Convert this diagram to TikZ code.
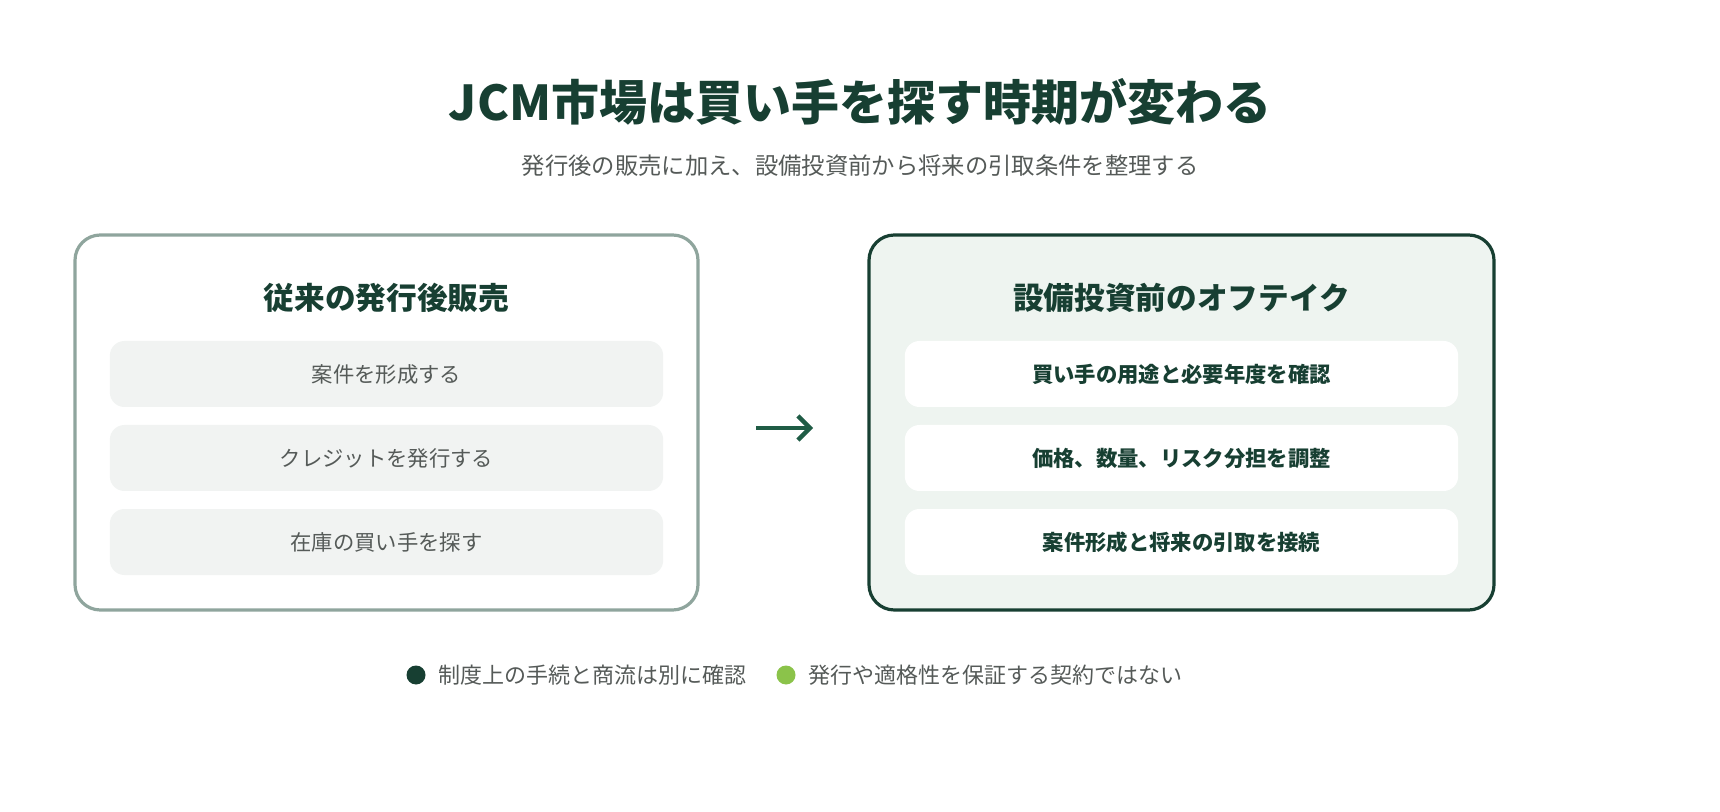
\documentclass[tikz,border=0pt]{standalone}
\usepackage{fontspec}
\setmainfont{Noto Sans CJK JP}
\usetikzlibrary{arrows.meta}
\definecolor{deepgreen}{HTML}{173F32}
\definecolor{greytext}{HTML}{555A58}
\definecolor{paleline}{HTML}{8FA59D}
\definecolor{rowgrey}{HTML}{F1F3F2}
\definecolor{palegreen}{HTML}{EEF4F0}
\definecolor{leafgreen}{HTML}{8BC34A}
\definecolor{arrowgreen}{HTML}{1F5C45}
\tikzset{every picture/.style={line width=0.75pt}}
\tikzset{
  panel/.style={rounded corners=19pt, line width=2.4pt},
  row/.style={rounded corners=11pt, draw=none, minimum width=415pt, minimum height=49.5pt, font=\fontsize{16pt}{18pt}\selectfont},
  head/.style={font=\fontsize{23pt}{26pt}\selectfont\bfseries, text=deepgreen},
  legend/.style={anchor=west, font=\fontsize{16.5pt}{19pt}\selectfont, text=greytext},
}
\begin{document}
\begin{tikzpicture}[x=0.75pt,y=0.75pt,yscale=-1,xscale=1]
\useasboundingbox (0,0) rectangle (1720,812);

% Title
\node (title) at (860,102) [font=\fontsize{36pt}{40pt}\selectfont\bfseries, text=deepgreen] {JCM市場は買い手を探す時期が変わる};
\node (subtitle) at (860,166) [font=\fontsize{17.5pt}{20pt}\selectfont, text=greytext] {発行後の販売に加え、設備投資前から将来の引取条件を整理する};

% Left panel
\draw [panel, draw=paleline, fill=white] (75,235) rectangle (698,610);
\node (lhead) at (386.5,298) [head] {従来の発行後販売};
\node (l1) at (386.5,374) [row, fill=rowgrey, text=greytext] {案件を形成する};
\node (l2) at (386.5,458) [row, fill=rowgrey, text=greytext] {クレジットを発行する};
\node (l3) at (386.5,542) [row, fill=rowgrey, text=greytext] {在庫の買い手を探す};

% Right panel
\draw [panel, draw=deepgreen, fill=palegreen] (869,235) rectangle (1494,610);
\node (rhead) at (1181.5,298) [head] {設備投資前のオフテイク};
\node (r1) at (1181.5,374) [row, fill=white, text=deepgreen, font=\fontsize{16pt}{18pt}\selectfont\bfseries] {買い手の用途と必要年度を確認};
\node (r2) at (1181.5,458) [row, fill=white, text=deepgreen, font=\fontsize{16pt}{18pt}\selectfont\bfseries] {価格、数量、リスク分担を調整};
\node (r3) at (1181.5,542) [row, fill=white, text=deepgreen, font=\fontsize{16pt}{18pt}\selectfont\bfseries] {案件形成と将来の引取を接続};

% Arrow
\coordinate (from) at (756,428);
\coordinate (to) at (813,428);
\draw [arrowgreen, line width=3.6pt, -{Straight Barb[length=9pt,width=18pt,line width=3.2pt]}] (from) -- (to);

% Legend
\fill [deepgreen] (416,675) circle (9.5);
\node (leg1) at (434,675) [legend] {制度上の手続と商流は別に確認};
\fill [leafgreen] (786,675) circle (9.5);
\node (leg2) at (804,675) [legend] {発行や適格性を保証する契約ではない};

\end{tikzpicture}
\end{document}
